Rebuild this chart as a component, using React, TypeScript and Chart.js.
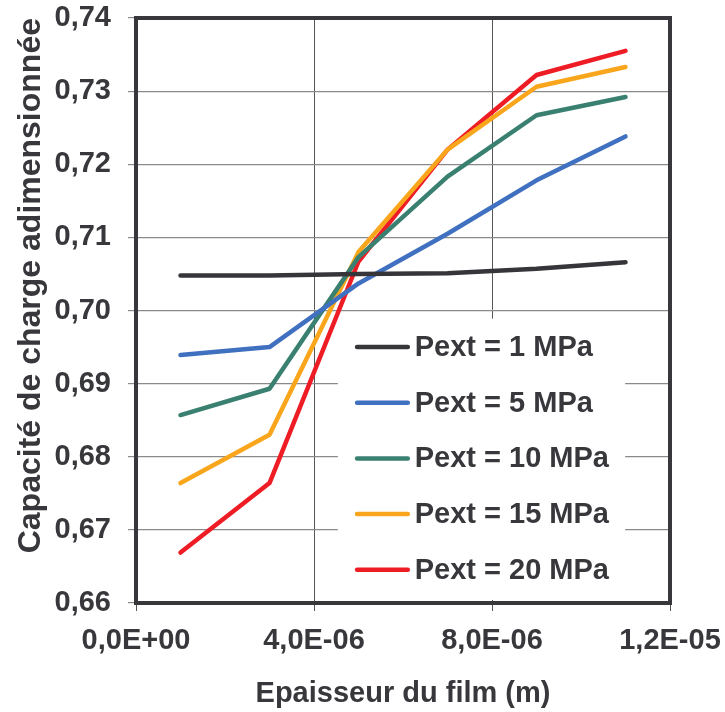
import React, { useEffect, useRef } from "react";
import { Chart, registerables } from "chart.js";

Chart.register(...registerables);

const thickness = [1e-6, 3e-6, 5e-6, 7e-6, 9e-6, 1.1e-5];
const pext1 = [0.7048, 0.7048, 0.705, 0.7051, 0.7057, 0.7066];
const pext5 = [0.6939, 0.695, 0.7037, 0.7105, 0.7178, 0.7238];
const pext10 = [0.6857, 0.6893, 0.7073, 0.7183, 0.7267, 0.7292];
const pext15 = [0.6764, 0.683, 0.708, 0.722, 0.7306, 0.7333];
const pext20 = [0.6669, 0.6764, 0.7067, 0.722, 0.7322, 0.7355];

const seriesLabels = ["Pext = 1 MPa", "Pext = 5 MPa", "Pext = 10 MPa", "Pext = 15 MPa", "Pext = 20 MPa"];
const seriesColors = ["#36363a", "#4070c0", "#3a8070", "#f9a61c", "#ee1d25"];
const seriesValues = [pext1, pext5, pext10, pext15, pext20];

const xTitle = "Epaisseur du film (m)";
const yTitle = "Capacité de charge adimensionnée";

const FONT = "'Liberation Sans', Arial, sans-serif";
const TEXT = "#38383c";
const FRAME = "#38383c";

function fmtExp(v: number): string {
  const s = v.toExponential(1);
  const [m, e] = s.split("e");
  const sign = e.startsWith("-") ? "-" : "+";
  const digits = e.replace(/^[+-]/, "").padStart(2, "0");
  return m.replace(".", ",") + "E" + sign + digits;
}

const boxLegend = {
  id: "boxLegend",
  beforeDatasetsDraw(chart: any) {
    const { ctx, chartArea: a } = chart;
    const w = a.right - a.left;
    const h = a.bottom - a.top;
    ctx.save();
    ctx.fillStyle = "#ffffff";
    const bx = a.left + w * 0.378;
    const by = a.top + h * 0.514;
    ctx.fillRect(bx, by, a.left + w * 0.916 - bx, a.bottom - 3 - by);
    ctx.restore();
  },
  afterDatasetsDraw(chart: any) {
    const { ctx, chartArea: a } = chart;
    const w = a.right - a.left;
    const h = a.bottom - a.top;
    ctx.save();
    ctx.strokeStyle = FRAME;
    ctx.lineWidth = 4;
    ctx.strokeRect(a.left, a.top, w, h);
    const lx0 = a.left + w * 0.414;
    const lx1 = a.left + w * 0.509;
    const tx = a.left + w * 0.522;
    const y0 = a.top + h * 0.5624;
    const dy = h * 0.0952;
    ctx.font = `bold 29px ${FONT}`;
    ctx.textBaseline = "middle";
    ctx.textAlign = "left";
    seriesLabels.forEach((lab, i) => {
      const y = y0 + dy * i;
      ctx.strokeStyle = seriesColors[i];
      ctx.lineWidth = 4.5;
      ctx.lineCap = "round";
      ctx.beginPath();
      ctx.moveTo(lx0, y);
      ctx.lineTo(lx1, y);
      ctx.stroke();
      ctx.fillStyle = TEXT;
      ctx.fillText(lab, tx, y + 1);
    });
    ctx.restore();
  },
};

export default function App() {
  const ref = useRef<HTMLCanvasElement>(null);
  useEffect(() => {
    document.body.style.margin = "0";
    const canvas = ref.current!;
    const chart = new Chart(canvas, {
      type: "line",
      data: {
        datasets: seriesValues.map((vals, i) => ({
          label: seriesLabels[i],
          data: thickness.map((x, j) => ({ x, y: vals[j] })),
          borderColor: seriesColors[i],
          backgroundColor: seriesColors[i],
          borderWidth: 4.5,
          borderCapStyle: "round" as const,
          borderJoinStyle: "round" as const,
          pointRadius: 0,
          tension: 0,
        })),
      },
      options: {
        animation: false,
        responsive: false,
        devicePixelRatio: 1,
        layout: { padding: { left: 0, top: 18, right: 55, bottom: 0 } },
        plugins: { legend: { display: false }, tooltip: { enabled: false } },
        scales: {
          x: {
            type: "linear",
            min: 0,
            max: 1.2e-5,
            afterFit(scale: any) {
              scale.height = 109;
              scale.paddingLeft = 0;
              scale.paddingRight = 0;
            },
            ticks: {
              stepSize: 4e-6,
              padding: 13,
              color: TEXT,
              font: { family: FONT, size: 29, weight: "bold" },
              maxRotation: 0,
              autoSkip: false,
              callback: (v: any) => fmtExp(Number(v)),
            },
            grid: { color: "#555558", lineWidth: 1, tickLength: 8 },
            border: { display: true, color: FRAME, width: 4 },
            title: {
              display: true,
              text: xTitle,
              color: TEXT,
              font: { family: FONT, size: 29, weight: "bold" },
              padding: { top: 0, bottom: 1 },
            },
          },
          y: {
            type: "linear",
            min: 0.66,
            max: 0.74,
            afterFit(scale: any) {
              scale.width = 136;
              scale.paddingTop = 0;
              scale.paddingBottom = 0;
            },
            ticks: {
              stepSize: 0.01,
              padding: 17,
              color: TEXT,
              font: { family: FONT, size: 29, weight: "bold" },
              callback: (v: any) => Number(v).toFixed(2).replace(".", ","),
            },
            grid: { color: "#8a8a8c", lineWidth: 1.2, tickLength: 8 },
            border: { display: true, color: FRAME, width: 4 },
            title: {
              display: true,
              text: yTitle,
              align: "end",
              color: TEXT,
              font: { family: FONT, size: 32, weight: "bold" },
              padding: { top: 12, bottom: 0 },
            },
          },
        },
      } as any,
      plugins: [boxLegend],
    });
    return () => chart.destroy();
  }, []);
  return <canvas ref={ref} width={725} height={712} />;
}
